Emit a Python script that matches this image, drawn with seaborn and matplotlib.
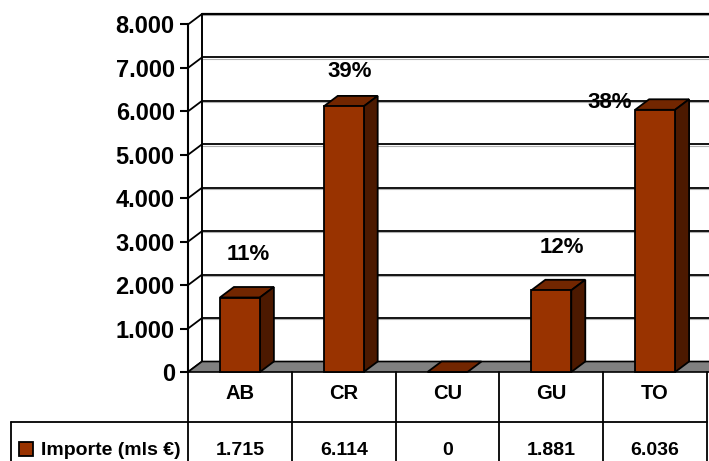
import seaborn as sns
import matplotlib.pyplot as plt
from matplotlib.patches import Polygon, Rectangle

categories = ["AB", "CR", "CU", "GU", "TO"]
importe = [1715, 6114, 0, 1881, 6036]
pct_labels = ["11%", "39%", "", "12%", "38%"]
# where Excel happened to drop the percent labels (data units)
pct_y = [2716, 6929, 0, 2855, 6215]
pct_dx = [0.08, 0.06, 0.0, 0.10, -0.44]
yticks = [0, 1000, 2000, 3000, 4000, 5000, 6000, 7000, 8000]
series_name = "Importe (mls €)"

FRONT = "#993300"
TOP = "#722600"
SIDE = "#4c1900"
FLOOR = "#808080"


def fmt(v):
    return "{:,}".format(v).replace(",", ".")


sns.set_theme(style="white")
plt.rcParams["font.family"] = ["Liberation Sans", "DejaVu Sans"]
plt.rcParams["font.weight"] = "bold"
plt.rcParams["text.color"] = "black"
plt.rcParams["ytick.color"] = "black"
plt.rcParams["ytick.labelcolor"] = "black"

fig = plt.figure(figsize=(7.09, 4.61), dpi=100)
W, H = 709, 461
ax = fig.add_axes([188 / W, (H - 372) / H, 519 / W, 357 / H])

px_per_unit = 43.44 / 1000
ytop = 357 / px_per_unit
dx = 14 / 103.8
dy = 10.5 / px_per_unit
ax.set_xlim(-0.5, 4.5)
ax.set_ylim(0, ytop)

# back wall gridlines + left wall diagonals
for v in yticks:
    lw = 1.6 if v == yticks[-1] else 1.3
    ax.plot([-0.5 + dx, 4.52], [v + dy, v + dy], color="black", lw=lw,
            zorder=1, clip_on=False)
    ax.plot([-0.5 + dx, 4.52], [v + dy - 1.3 / px_per_unit] * 2,
            color="#b0b0b0", lw=0.8, zorder=0.9, clip_on=False)
    ax.plot([-0.5, -0.5 + dx], [v, v + dy], color="black", lw=1.3,
            zorder=1, clip_on=False)
ax.plot([-0.5 + dx, -0.5 + dx], [dy, yticks[-1] + dy], color="black",
        lw=1.4, zorder=1, clip_on=False)

# floor
ax.add_patch(Polygon([(-0.5, 0), (4.52, 0), (4.52 + dx, dy), (-0.5 + dx, dy)],
                     closed=True, facecolor=FLOOR, edgecolor="black",
                     lw=1.2, zorder=2, clip_on=False))

sns.barplot(x=categories, y=importe, color=FRONT, width=0.385,
            edgecolor="black", linewidth=1.3, saturation=1, ax=ax, zorder=4)

for p in ax.patches[1:]:
    x0, y0 = p.get_x(), p.get_y()
    w, h = p.get_width(), p.get_height()
    p.set_clip_on(False)
    top = [(x0, y0 + h), (x0 + w, y0 + h), (x0 + w + dx, y0 + h + dy),
           (x0 + dx, y0 + h + dy)]
    side = [(x0 + w, y0), (x0 + w + dx, y0 + dy), (x0 + w + dx, y0 + h + dy),
            (x0 + w, y0 + h)]
    ax.add_patch(Polygon(top, closed=True, facecolor=TOP, edgecolor="black",
                         lw=1.3, zorder=3.5, clip_on=False))
    if h > 0:
        ax.add_patch(Polygon(side, closed=True, facecolor=SIDE,
                             edgecolor="black", lw=1.3, zorder=3.5,
                             clip_on=False))

for i, lab in enumerate(pct_labels):
    if lab:
        ax.text(i + pct_dx[i], pct_y[i], lab, ha="center", va="center",
                fontsize=16, fontweight="bold", zorder=6)

# axes
for s in ["top", "right", "bottom"]:
    ax.spines[s].set_visible(False)
ax.spines["left"].set_bounds(0, yticks[-1])
ax.spines["left"].set_linewidth(1.5)
ax.spines["left"].set_color("black")
ax.spines["left"].set_zorder(5)
ax.set_yticks(yticks)
ax.set_yticklabels([fmt(v) for v in yticks], fontsize=17, fontweight="bold")
ax.tick_params(axis="y", left=True, length=6, width=1.5, pad=3.5,
               color="black", labelcolor="black")
ax.set_xticks([])
ax.set_xlabel("")
ax.set_ylabel("")

# data table under the axis
tr = ax.get_xaxis_transform()
row1 = -(422 - 372) / 357
row_bot = -0.3
x_left = -0.5 + (11 - 188) / 103.8
for i in range(len(categories) + 1):
    ax.plot([i - 0.5, i - 0.5], [0, row_bot], color="black", lw=1.3,
            transform=tr, clip_on=False)
ax.plot([x_left, 4.5], [row1, row1], color="black", lw=1.3, transform=tr,
        clip_on=False)
ax.plot([x_left, x_left], [row1, row_bot], color="black", lw=1.3,
        transform=tr, clip_on=False)

for i, c in enumerate(categories):
    ax.text(i, -(393 - 372) / 357, c, ha="center", va="center", fontsize=14.5,
            fontweight="bold", transform=tr)
    ax.text(i, -(450 - 372) / 357, fmt(importe[i]), ha="center",
            va="center", fontsize=14, fontweight="bold", transform=tr)

ax.add_patch(Rectangle((-0.5 + (19 - 188) / 103.8, -(456 - 372) / 357),
                       14 / 103.8, 14 / 357, facecolor=FRONT,
                       edgecolor="black", lw=1.3, transform=tr,
                       clip_on=False))
ax.text(-0.5 + (41 - 188) / 103.8, -(450 - 372) / 357, series_name,
        ha="left", va="center", fontsize=14, fontweight="bold", transform=tr)

fig.savefig("out.png", dpi=100)
